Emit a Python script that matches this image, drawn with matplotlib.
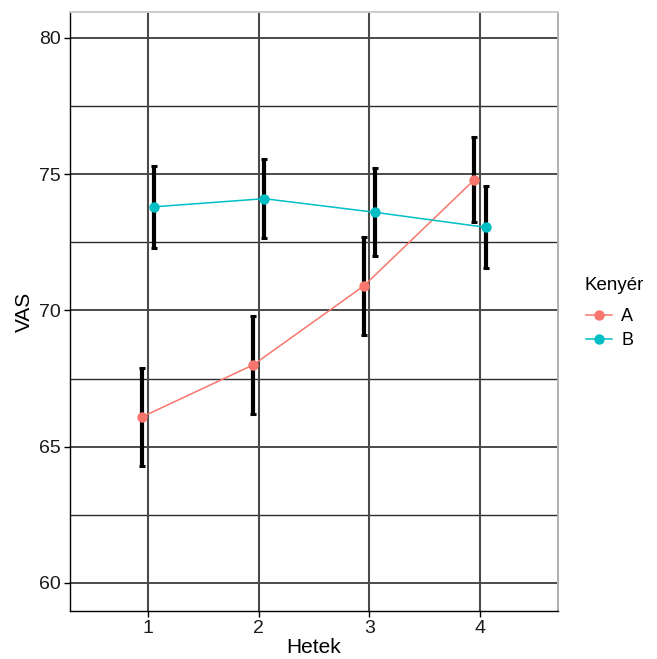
import matplotlib
matplotlib.use("Agg")
import matplotlib.pyplot as plt
import numpy as np
from matplotlib.lines import Line2D

plt.rcParams['font.family'] = ['Liberation Sans', 'DejaVu Sans']

weeks = [1, 2, 3, 4]
week_labels = ["1", "2", "3", "4"]
groups = ["A", "B"]
vas_A = [66.1, 68.0, 70.9, 74.8]
err_A = [1.8, 1.8, 1.8, 1.55]
vas_B = [73.8, 74.1, 73.6, 73.05]
err_B = [1.5, 1.45, 1.62, 1.5]
colors = {"A": "#F8766D", "B": "#00BFC4"}
dodge = {"A": -0.05, "B": 0.05}

fig = plt.figure(figsize=(6.57, 6.59), dpi=100)
ax = fig.add_axes([70/657, 1-611/659, (557.5-70)/657, (611-12)/659])

ax.set_xlim(0.295, 4.70)
ax.set_ylim(58.97, 80.95)

# grid
for y in [62.5, 67.5, 72.5, 77.5]:
    ax.axhline(y, color="#2b2b2b", lw=1.0, zorder=1)
for y in [60, 65, 70, 75, 80]:
    ax.axhline(y, color="#1a1a1a", lw=1.1, zorder=1)
for x in weeks:
    ax.axvline(x, color="#4a4a4a", lw=1.5, zorder=1)

for g, vals, errs in [("A", vas_A, err_A), ("B", vas_B, err_B)]:
    xs = np.array(weeks) + dodge[g]
    ax.errorbar(xs, vals, yerr=errs, fmt="none", ecolor="black", elinewidth=3.0,
                capsize=2.0, capthick=2.2, zorder=3)
    ax.plot(xs, vals, color=colors[g], lw=1.1, zorder=4)
    ax.plot(xs, vals, "o", color=colors[g], ms=7.5, mec="none", zorder=5)

ax.set_xticks(weeks)
ax.set_xticklabels(week_labels)
ax.set_yticks([60, 65, 70, 75, 80])
ax.tick_params(axis="both", length=4.5, width=1.0, color="black", labelsize=14,
               labelcolor="#1a1a1a", pad=2)

ax.spines["left"].set_color("black")
ax.spines["bottom"].set_color("black")
ax.spines["left"].set_linewidth(1.0)
ax.spines["bottom"].set_linewidth(1.0)
ax.spines["top"].set_color("#cccccc")
ax.spines["right"].set_color("#b0b0b0")
ax.spines["top"].set_linewidth(1.4)
ax.spines["right"].set_linewidth(1.4)

ax.set_xlabel("Hetek", fontsize=15, labelpad=1)
ax.set_ylabel("VAS", fontsize=15, labelpad=4)

fig.text(584/657, 1-285/659, "Kenyér", fontsize=13.5, ha="left", va="center")
handles = [Line2D([0], [0], color=colors[g], lw=1.1, marker="o", ms=7.5, mec="none")
           for g in groups]
leg = fig.legend(handles, groups, loc="upper left",
                 bbox_to_anchor=(570/657, 1-292/659), frameon=False,
                 fontsize=13, handlelength=1.4,
                 handletextpad=0.55, labelspacing=0.4)

fig.savefig("out.png", dpi=100)
